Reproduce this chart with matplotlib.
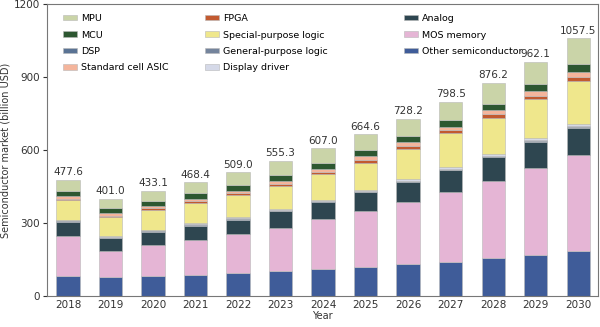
import numpy as np
import matplotlib
matplotlib.use("Agg")
import matplotlib.pyplot as plt
from matplotlib.legend import Legend

# Semiconductor market by segment (billion USD)
years = ["2018", "2019", "2020", "2021", "2022", "2023", "2024",
         "2025", "2026", "2027", "2028", "2029", "2030"]
totals = [477.6, 401.0, 433.1, 468.4, 509.0, 555.3, 607.0,
          664.6, 728.2, 798.5, 876.2, 962.1, 1057.5]

other_semi = [82, 78, 81, 88, 94, 103, 110, 120, 131, 140, 154, 168, 184]
mos_memory = [163, 108, 128, 141, 159, 177, 205, 231, 255, 287, 320, 357, 396]
analog = [59, 52, 55, 60, 61, 68, 71, 75, 82, 89, 95, 109, 111]
dsp = [3, 2, 2, 3, 3, 3, 3, 3, 3, 3, 4, 4, 4]
gp_logic = [3, 2, 3, 3, 3, 3, 3, 3, 3, 4, 4, 4, 4]
display_driver = [4, 4, 4, 4, 5, 3, 4, 5, 5, 5, 6, 5, 6]
sp_logic = [79, 77, 81, 83, 88, 94, 104, 111, 126, 140, 150, 162, 180]
fpga = [7, 7, 7, 7, 9, 10, 10, 12, 12, 12, 13, 14, 14]
std_asic = [10, 9, 9, 8, 11, 13, 13, 15, 15, 15, 17, 21, 20]
mcu = [23, 22, 19, 24, 22, 24, 25, 23, 27, 30, 25, 25, 35]
mpu = [44, 39, 44, 47, 53, 57, 58, 67, 69, 73, 88, 93, 104]

segments = [
    ("Other semiconductor", other_semi, "#3f5c99"),
    ("MOS memory", mos_memory, "#e5b5d5"),
    ("Analog", analog, "#2e4650"),
    ("DSP", dsp, "#5a7394"),
    ("General-purpose logic", gp_logic, "#74849c"),
    ("Display driver", display_driver, "#d5d9e8"),
    ("Special-purpose logic", sp_logic, "#efe78c"),
    ("FPGA", fpga, "#c25a30"),
    ("Standard cell ASIC", std_asic, "#f4b59c"),
    ("MCU", mcu, "#2d5731"),
    ("MPU", mpu, "#cad4a8"),
]

legend_columns = [
    (["MPU", "MCU", "DSP", "Standard cell ASIC"], 0.029),
    (["FPGA", "Special-purpose logic", "General-purpose logic", "Display driver"], 0.287),
    (["Analog", "MOS memory", "Other semiconductor"], 0.648),
]

fig = plt.figure(figsize=(6.0, 3.27), dpi=100)
ax = fig.add_axes([0.078, 0.095, 0.919, 0.893])

x = np.arange(len(years))
bottom = np.zeros(len(years))
handles = {}
for name, vals, color in segments:
    vals = np.array(vals, dtype=float)
    bars = ax.bar(x, vals, width=0.55, bottom=bottom, color=color,
                  edgecolor="#b8b8b8", linewidth=0.4, label=name)
    handles[name] = bars
    bottom += vals

for xi, top, total in zip(x, bottom, totals):
    ax.text(xi, top + 10, f"{total:.1f}", ha="center", va="bottom",
            fontsize=7.5, color="#333333")

ax.set_xlim(-0.5, len(years) - 0.53)
ax.set_ylim(0, 1200)
ax.set_yticks([0, 300, 600, 900, 1200])
ax.set_xticks(x)
ax.set_xticklabels(years)
ax.tick_params(axis="x", length=0, labelsize=7.5, colors="#333333", pad=3)
ax.tick_params(axis="y", length=3, labelsize=7.5, colors="#333333", pad=2)
for spine in ax.spines.values():
    spine.set_color("#777777")
    spine.set_linewidth(0.8)

ax.set_xlabel("Year", fontsize=7, color="#333333", labelpad=1)
ax.set_ylabel("Semiconductor market (billion USD)", fontsize=7, color="#333333", labelpad=2)

# one legend per column so the columns sit where they do in the reference
for names, xpos in legend_columns:
    leg = Legend(ax, [handles[n] for n in names], names, loc="upper left",
                 bbox_to_anchor=(xpos, 0.965), frameon=False, borderpad=0,
                 fontsize=6.8, handlelength=1.5, handleheight=0.5,
                 handletextpad=0.4, labelspacing=0.78, borderaxespad=0)
    ax.add_artist(leg)

fig.savefig("out.png", dpi=100)
